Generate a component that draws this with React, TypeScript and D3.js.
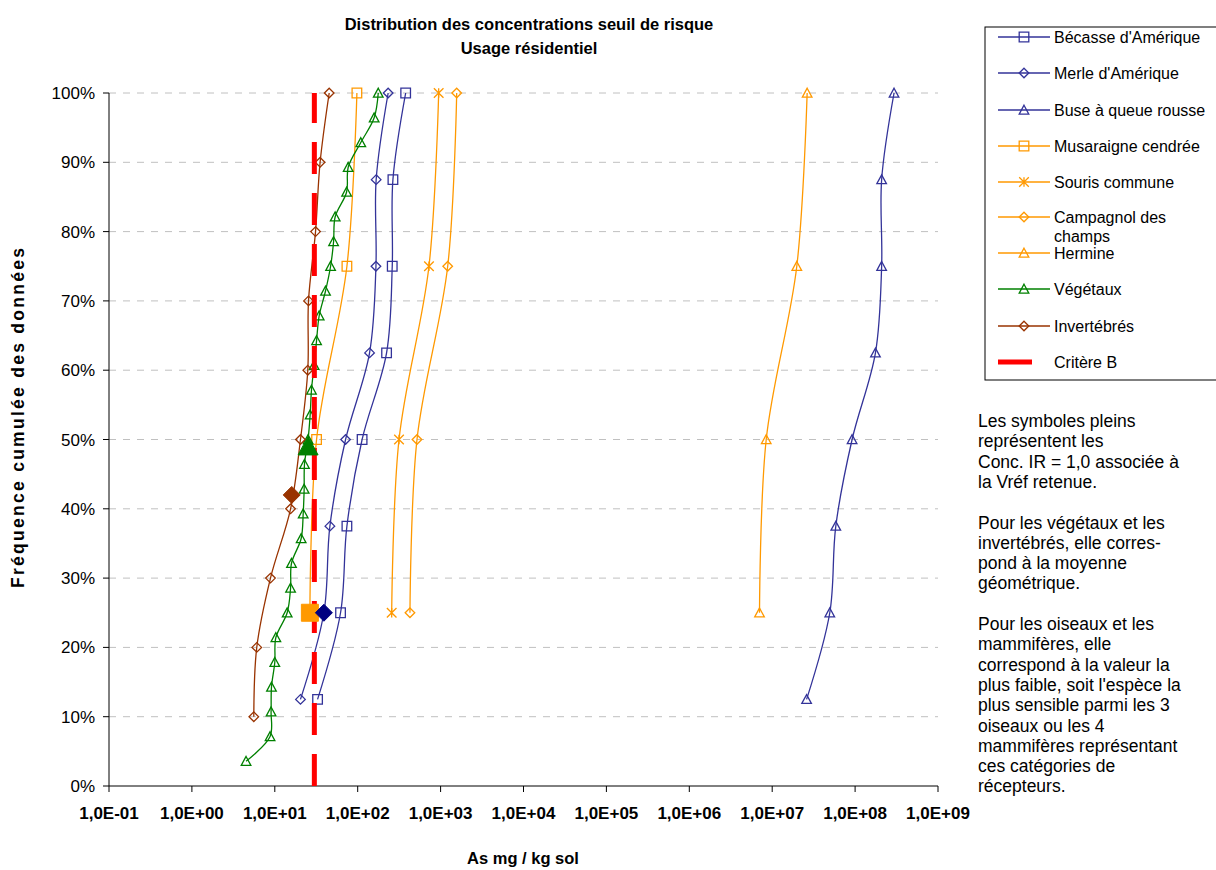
import React from "react";
import * as d3 from "d3";

const titleLines = ["Distribution des concentrations seuil de risque", "Usage résidentiel"];
const xTickValues = [1e-1, 1e0, 1e1, 1e2, 1e3, 1e4, 1e5, 1e6, 1e7, 1e8, 1e9];
const xTickLabels = ["1,0E-01", "1,0E+00", "1,0E+01", "1,0E+02", "1,0E+03", "1,0E+04", "1,0E+05", "1,0E+06", "1,0E+07", "1,0E+08", "1,0E+09"];
const yTickValues = [0, 0.1, 0.2, 0.3, 0.4, 0.5, 0.6, 0.7, 0.8, 0.9, 1.0];
const yTickLabels = ["0%", "10%", "20%", "30%", "40%", "50%", "60%", "70%", "80%", "90%", "100%"];

const pct8 = [0.125, 0.25, 0.375, 0.5, 0.625, 0.75, 0.875, 1.0];
const pct4 = [0.25, 0.5, 0.75, 1.0];
const pct10 = [0.1, 0.2, 0.3, 0.4, 0.5, 0.6, 0.7, 0.8, 0.9, 1.0];
const pct28 = [1, 2, 3, 4, 5, 6, 7, 8, 9, 10, 11, 12, 13, 14, 15, 16, 17, 18, 19, 20, 21, 22, 23, 24, 25, 26, 27, 28].map((i) => i / 28);

const becasse = [32.8, 62.1, 74.1, 113, 223, 261, 266, 379];
const merle = [20.4, 39.1, 46.2, 71.4, 139, 166, 167, 233];
const buse = [2.6e7, 4.95e7, 5.85e7, 9.2e7, 1.76e8, 2.09e8, 2.09e8, 2.95e8];
const musaraigne = [26.5, 31.9, 74.1, 97.8];
const souris = [257, 315, 724, 948];
const campagnol = [427, 519, 1218, 1564];
const hermine = [7.03e6, 8.47e6, 1.98e7, 2.64e7];
const vegetaux = [4.5, 8.77, 9.02, 9.12, 10.0, 10.3, 14.1, 15.5, 15.9, 20.8, 22.0, 22.6, 22.8, 25.2, 26.7, 27.7, 29.8, 31.9, 34.3, 40.9, 47.1, 51.2, 53.5, 73.5, 76.8, 109, 158, 177];
const invertebres = [5.58, 6.06, 8.87, 15.5, 20.4, 25.0, 25.5, 31.0, 35.2, 45.3];
const critereB = 30;

const filledNames = ["Musaraigne", "Merle", "Végétaux", "Invertébrés"];
const filledValues = [26.5, 39.1, 25.2, 16.0];
const filledPct = [0.25, 0.25, 0.49, 0.42];
const filledShapes = ["square", "diamond", "triangle", "diamond"];
const filledColors = ["#FF9900", "#000080", "#008000", "#993300"];

const noteLines = [
  "Les symboles pleins", "représentent les", "Conc. IR = 1,0 associée à", "la Vréf retenue.", "",
  "Pour les végétaux et les", "invertébrés, elle corres-", "pond à la moyenne", "géométrique.", "",
  "Pour les oiseaux et les", "mammifères, elle", "correspond à la valeur la", "plus faible, soit l'espèce la",
  "plus sensible parmi les 3", "oiseaux ou les 4", "mammifères représentant", "ces catégories de", "récepteurs.",
];

const BLUE = "#333399";
const ORANGE = "#FF9900";
const GREEN = "#008000";
const BROWN = "#993300";

const series = [
  { name: ["Bécasse d'Amérique"], values: becasse, pct: pct8, color: BLUE, shape: "square" },
  { name: ["Merle d'Amérique"], values: merle, pct: pct8, color: BLUE, shape: "diamond" },
  { name: ["Buse à queue rousse"], values: buse, pct: pct8, color: BLUE, shape: "triangle" },
  { name: ["Musaraigne cendrée"], values: musaraigne, pct: pct4, color: ORANGE, shape: "square" },
  { name: ["Souris commune"], values: souris, pct: pct4, color: ORANGE, shape: "star" },
  { name: ["Campagnol des", "champs"], values: campagnol, pct: pct4, color: ORANGE, shape: "diamond" },
  { name: ["Hermine"], values: hermine, pct: pct4, color: ORANGE, shape: "triangle" },
  { name: ["Végétaux"], values: vegetaux, pct: pct28, color: GREEN, shape: "triangle" },
  { name: ["Invertébrés"], values: invertebres, pct: pct10, color: BROWN, shape: "diamond" },
];

const FONT = "'Liberation Sans', Arial, sans-serif";

function markerPath(shape: string, r: number): string {
  if (shape === "square") return `M${-r},${-r}H${r}V${r}H${-r}Z`;
  if (shape === "diamond") return `M0,${-r}L${r},0L0,${r}L${-r},0Z`;
  if (shape === "triangle") return `M0,${-r}L${r},${r * 0.85}L${-r},${r * 0.85}Z`;
  return `M${-r},${-r}L${r},${r}M${r},${-r}L${-r},${r}M0,${-r}L0,${r}`;
}

function Marker({ shape, x, y, color, r = 4.8, filled = false }: any) {
  return (
    <path
      d={markerPath(shape, r)}
      transform={`translate(${x},${y})`}
      fill={filled ? color : "none"}
      stroke={color}
      strokeWidth={filled ? 1 : 1.3}
    />
  );
}

export default function App() {
  const x = d3.scaleLog().domain([1e-1, 1e9]).range([109, 938]);
  const y = d3.scaleLinear().domain([0, 1]).range([786, 93]);
  const line = d3
    .line<[number, number]>()
    .x((d) => x(d[0]))
    .y((d) => y(d[1]))
    .curve(d3.curveCatmullRom.alpha(0.5));

  const legendRows = [37, 73, 110, 146, 182, 217, 253, 289, 326];

  return (
    <svg width={1216} height={870} style={{ position: "absolute", left: 0, top: 0, background: "#fff" }} fontFamily={FONT}>
      <rect x={0} y={0} width={1216} height={870} fill="#fff" />
      {titleLines.map((t, i) => (
        <text key={t} x={529} y={30 + i * 24} textAnchor="middle" fontWeight="bold" fontSize={16.5} fill="#000">
          {t}
        </text>
      ))}
      {yTickValues.slice(1).map((v) => (
        <line key={v} x1={109} x2={938} y1={y(v)} y2={y(v)} stroke="#c0c0c0" strokeWidth={1} strokeDasharray="7,7" />
      ))}
      <line x1={109} x2={109} y1={93} y2={786} stroke="#000" strokeWidth={1} />
      <line x1={109} x2={938} y1={786} y2={786} stroke="#000" strokeWidth={1} />
      {yTickValues.map((v, i) => (
        <g key={v}>
          <line x1={103} x2={109} y1={y(v)} y2={y(v)} stroke="#000" />
          <text x={95} y={y(v) + 6} textAnchor="end" fontSize={17} fill="#000">
            {yTickLabels[i]}
          </text>
        </g>
      ))}
      {xTickValues.map((v, i) => (
        <g key={v}>
          <line x1={x(v)} x2={x(v)} y1={786} y2={792} stroke="#000" />
          <text x={x(v)} y={819} textAnchor="middle" fontSize={17} fontWeight="bold" fill="#000">
            {xTickLabels[i]}
          </text>
        </g>
      ))}
      <text x={523} y={864} textAnchor="middle" fontWeight="bold" fontSize={16.5} fill="#000">
        As mg / kg sol
      </text>
      <text
        transform="translate(24,418) rotate(-90)"
        textAnchor="middle"
        fontWeight="bold"
        fontSize={17.5}
        textLength={340}
        lengthAdjust="spacing"
        fill="#000"
      >
        Fréquence cumulée des données
      </text>

      {series.map((s) => {
        const pts: [number, number][] = s.values.map((v, i) => [v, s.pct[i]]);
        return (
          <g key={s.name.join(" ")}>
            <path d={line(pts) || ""} fill="none" stroke={s.color} strokeWidth={1.3} />
            {pts.map((p, i) => (
              <Marker key={i} shape={s.shape} x={x(p[0])} y={y(p[1])} color={s.color} />
            ))}
          </g>
        );
      })}

      <line x1={x(critereB)} x2={x(critereB)} y1={786} y2={93} stroke="#FF0000" strokeWidth={5} strokeDasharray="32,19" />

      {filledNames.map((n, i) => (
        <Marker
          key={n}
          shape={filledShapes[i]}
          x={x(filledValues[i])}
          y={y(filledPct[i])}
          color={filledColors[i]}
          r={filledShapes[i] === "triangle" ? 10 : 8.5}
          filled
        />
      ))}

      <rect x={985} y={27} width={240} height={353} fill="#fff" stroke="#000" strokeWidth={1} />
      {series.map((s, i) => (
        <g key={"lg" + i}>
          <line x1={998} x2={1050} y1={legendRows[i]} y2={legendRows[i]} stroke={s.color} strokeWidth={1.3} />
          <Marker shape={s.shape} x={1024} y={legendRows[i]} color={s.color} />
          {s.name.map((t, j) => (
            <text key={t} x={1054} y={legendRows[i] + 6 + j * 19} fontSize={16} fill="#000">
              {t}
            </text>
          ))}
        </g>
      ))}
      <line x1={998} x2={1032} y1={362} y2={362} stroke="#FF0000" strokeWidth={5} />
      <text x={1054} y={368} fontSize={16} fill="#000">
        Critère B
      </text>

      {noteLines.map((t, i) => (
        <text key={i} x={978} y={427 + i * 20.3} fontSize={17.5} fill="#000">
          {t}
        </text>
      ))}
    </svg>
  );
}
